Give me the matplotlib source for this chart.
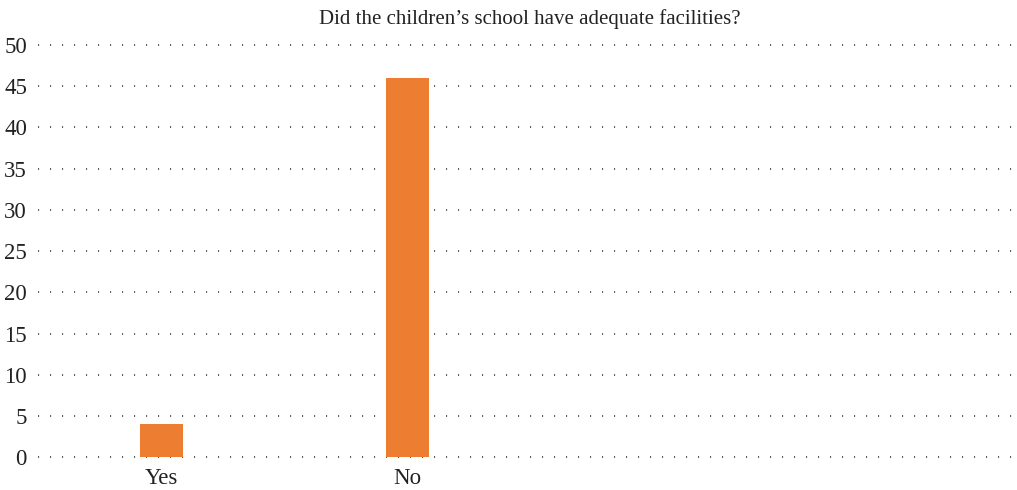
import matplotlib
matplotlib.use('Agg')
import matplotlib.pyplot as plt

categories = ['Yes', 'No', '', '']
values = [4, 46, 0, 0]
yticks = list(range(0, 51, 5))
title = 'Did the children\u2019s school have adequate facilities?'

plt.rcParams['font.family'] = ['Liberation Serif', 'DejaVu Serif']
plt.rcParams['lines.scale_dashes'] = False

fig = plt.figure(figsize=(10.17, 4.9), dpi=100)
ax = fig.add_axes([0.0374, 0.067, 0.958, 0.841])

xs = list(range(len(categories)))
ax.bar(xs[:2], values[:2], width=0.175, color='#ED7D31', zorder=3)

ax.set_xlim(-0.5, 3.46)
ax.set_ylim(0, 50)
ax.set_yticks(yticks)
ax.set_xticks(xs[:2])
ax.set_xticklabels(categories[:2])
ax.tick_params(axis='both', length=0, labelsize=16.5, colors='#222222')
ax.tick_params(axis='y', pad=8)
ax.tick_params(axis='x', pad=8)
for s in ax.spines.values():
    s.set_visible(False)
ax.grid(axis='y', color='#333333', linewidth=1.1, linestyle=(0, (0.8, 7.84)), zorder=1)
for gl in ax.get_ygridlines():
    gl.set_clip_on(False)
ax.set_axisbelow(True)

fig.suptitle(title, x=0.521, y=0.982, fontsize=15, color='#222222')

fig.savefig('out.png', dpi=100)
